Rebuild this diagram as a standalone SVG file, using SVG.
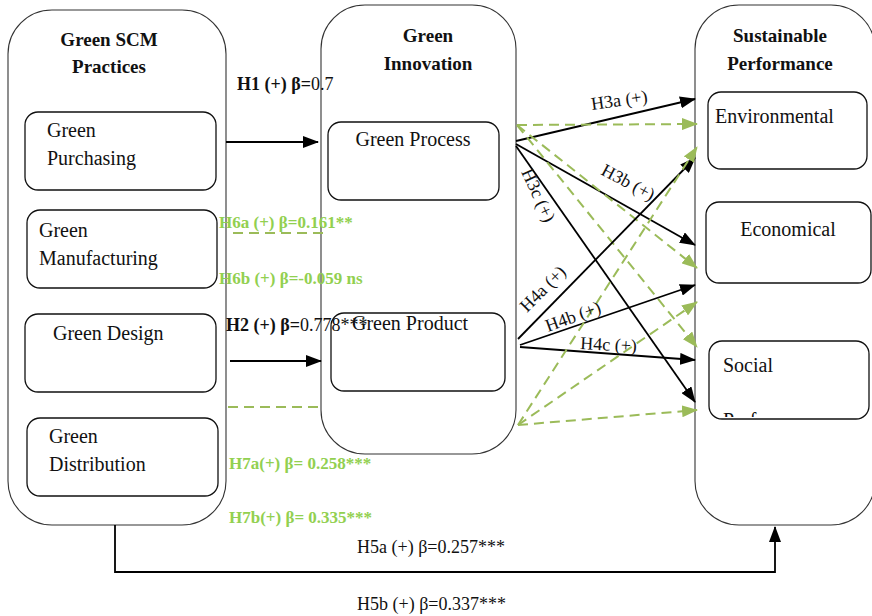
<svg xmlns="http://www.w3.org/2000/svg" width="872" height="616" viewBox="0 0 872 616">
<style>
.big{fill:#fff;stroke:#333;stroke-width:1.1}
.box{fill:#fff;stroke:#111;stroke-width:1.3}
.t{font-family:"Liberation Serif","Times New Roman",serif;font-size:20px;fill:#111}
.h{font-family:"Liberation Serif","Times New Roman",serif;font-size:19px;font-weight:bold;fill:#111}
.lb{font-family:"Liberation Serif","Times New Roman",serif;font-size:18px;fill:#111}
.lbb{font-weight:bold}
.gl{font-family:"Liberation Serif","Times New Roman",serif;font-size:17px;font-weight:bold;fill:#92D050}
.blk{fill:none;stroke:#000;stroke-width:1.8}
.grn{fill:none;stroke:#9BBB59;stroke-width:2;stroke-dasharray:10 6}
</style>
<defs>
<marker id="ab" markerUnits="userSpaceOnUse" markerWidth="16" markerHeight="12" refX="15" refY="6" orient="auto">
<path d="M0,0 L16,6 L0,12 z" fill="#000"/>
</marker>
<marker id="ag" markerUnits="userSpaceOnUse" markerWidth="16" markerHeight="12" refX="15" refY="6" orient="auto">
<path d="M0,0 L16,6 L0,12 z" fill="#9BBB59"/>
</marker>
<clipPath id="socclip"><rect x="709" y="341" width="160" height="76"/></clipPath>
</defs>

<g id="gscm">
<rect class="big" x="8" y="10" width="218" height="515" rx="44"/>
<text class="h" x="109" y="46" text-anchor="middle">Green SCM</text>
<text class="h" x="109" y="73" text-anchor="middle">Practices</text>
</g>
<g id="green-purchasing">
<rect class="box" x="25" y="112" width="191" height="78" rx="13"/>
<text class="t" x="47" y="137">Green</text>
<text class="t" x="47" y="165">Purchasing</text>
</g>
<g id="green-manufacturing">
<rect class="box" x="27" y="210" width="190" height="78" rx="13"/>
<text class="t" x="39" y="237">Green</text>
<text class="t" x="39" y="265">Manufacturing</text>
</g>
<g id="green-design">
<rect class="box" x="25" y="314" width="191" height="78" rx="13"/>
<text class="t" x="53" y="340">Green Design</text>
</g>
<g id="green-distribution">
<rect class="box" x="27" y="418" width="191" height="78" rx="13"/>
<text class="t" x="49" y="443">Green</text>
<text class="t" x="49" y="471">Distribution</text>
</g>

<g id="green-innovation">
<rect class="big" x="321" y="5" width="195" height="449" rx="44"/>
<text class="h" x="428" y="42" text-anchor="middle">Green</text>
<text class="h" x="428" y="70" text-anchor="middle">Innovation</text>
</g>
<g id="green-process">
<rect class="box" x="328" y="122" width="171" height="78" rx="13"/>
<text class="t" x="413" y="146" text-anchor="middle">Green Process</text>
</g>
<g id="green-product">
<rect class="box" x="331" y="313" width="174" height="78" rx="13"/>
<text class="t" x="352" y="330">Green Product</text>
</g>

<g id="sustainable-performance">
<rect class="big" x="695" y="5" width="180" height="520" rx="44"/>
<text class="h" x="780" y="42" text-anchor="middle">Sustainable</text>
<text class="h" x="780" y="70" text-anchor="middle">Performance</text>
</g>
<g id="environmental">
<rect class="box" x="708" y="92" width="159" height="77" rx="13"/>
<text class="t" x="715" y="123">Environmental</text>
</g>
<g id="economical">
<rect class="box" x="706" y="202" width="165" height="81" rx="13"/>
<text class="t" x="788" y="236" text-anchor="middle">Economical</text>
</g>
<g id="social">
<rect class="box" x="709" y="341" width="160" height="78" rx="13"/>
<text class="t" x="723" y="372">Social</text>
<text class="t" x="723" y="427" clip-path="url(#socclip)">Performance</text>
</g>

<g id="connectors">
<!-- H1, H2 -->
<line class="blk" x1="226" y1="142" x2="318" y2="142" marker-end="url(#ab)"/>
<line class="blk" x1="230" y1="361" x2="321" y2="361" marker-end="url(#ab)"/>
<!-- H6a, H6b/H7 dashed -->
<line class="grn" x1="233" y1="233" x2="329" y2="233"/>
<line class="grn" x1="228" y1="407" x2="320" y2="407"/>
<!-- Green process to SP -->
<line class="blk" x1="516" y1="141" x2="695" y2="99" marker-end="url(#ab)"/>
<line class="blk" x1="516" y1="144" x2="695" y2="245" marker-end="url(#ab)"/>
<line class="blk" x1="516" y1="146" x2="695" y2="402" marker-end="url(#ab)"/>
<line class="grn" x1="517" y1="125" x2="697" y2="124" marker-end="url(#ag)"/>
<line class="grn" x1="517" y1="125" x2="697" y2="268" marker-end="url(#ag)"/>
<line class="grn" x1="517" y1="125" x2="697" y2="347" marker-end="url(#ag)"/>
<!-- Green product to SP -->
<line class="blk" x1="518" y1="339" x2="695" y2="158" marker-end="url(#ab)"/>
<line class="blk" x1="520" y1="345" x2="695" y2="285" marker-end="url(#ab)"/>
<line class="blk" x1="520" y1="347" x2="695" y2="360" marker-end="url(#ab)"/>
<line class="grn" x1="518" y1="425" x2="697" y2="147" marker-end="url(#ag)"/>
<line class="grn" x1="518" y1="425" x2="697" y2="302" marker-end="url(#ag)"/>
<line class="grn" x1="518" y1="425" x2="697" y2="410" marker-end="url(#ag)"/>
<!-- H5 -->
<polyline class="blk" points="115,525 115,572 775,572 775,527" marker-end="url(#ab)"/>
</g>

<g id="labels">
<text class="lb" x="237" y="90"><tspan class="lbb">H1 (+) β=</tspan>0.7</text>
<text class="lb" x="226" y="331"><tspan class="lbb">H2 (+) β=</tspan>0.778***</text>
<text class="gl" x="219" y="228">H6a (+) β=0.161**</text>
<text class="gl" x="219" y="284">H6b (+) β=-0.059 ns</text>
<text class="gl" x="229" y="469">H7a(+) β= 0.258***</text>
<text class="gl" x="229" y="523">H7b(+) β= 0.335***</text>
<text class="lb" x="357" y="553">H5a (+) β=0.257***</text>
<text class="lb" x="357" y="610">H5b (+) β=0.337***</text>
<text class="lb" transform="translate(592,110) rotate(-8)">H3a (+)</text>
<text class="lb" transform="translate(600,174) rotate(28)">H3b (+)</text>
<text class="lb" transform="translate(521,172) rotate(65)">H3c (+)</text>
<text class="lb" transform="translate(527,313) rotate(-45)">H4a (+)</text>
<text class="lb" transform="translate(548,332) rotate(-20)">H4b (+)</text>
<text class="lb" transform="translate(580,349) rotate(3)">H4c (+)</text>
</g>
</svg>
